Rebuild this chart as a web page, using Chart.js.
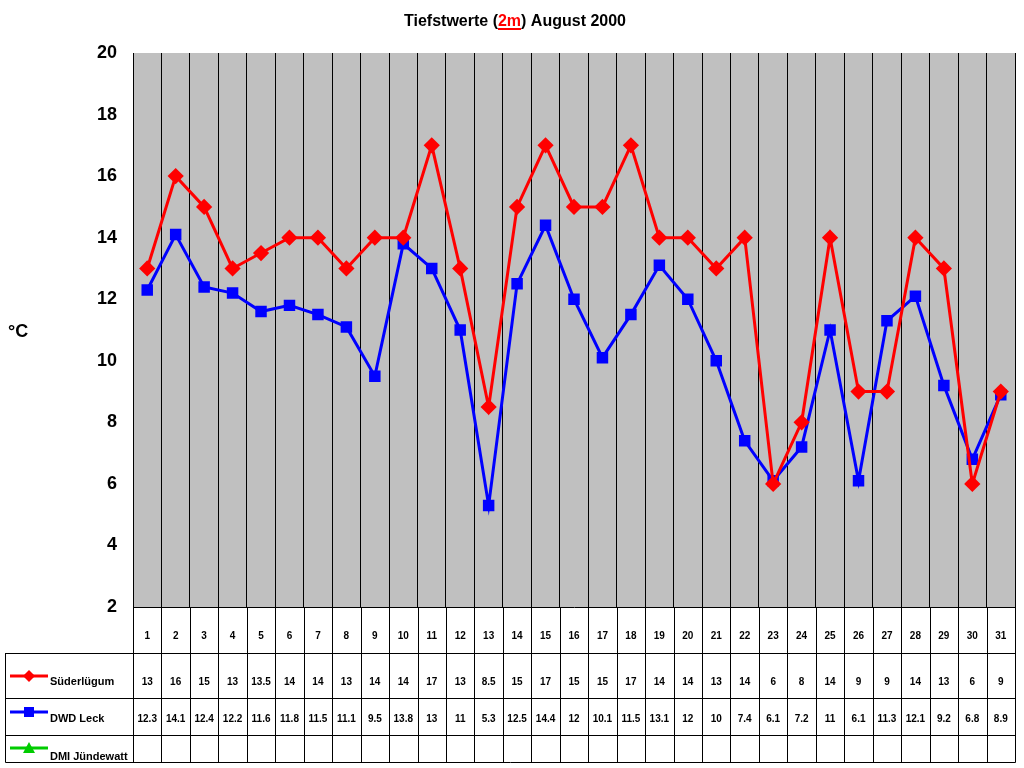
<!DOCTYPE html>
<html>
<head>
<meta charset="utf-8">
<script src="https://cdn.jsdelivr.net/npm/chart.js@4/dist/chart.umd.min.js"></script>
<style>
  html, body { margin: 0; padding: 0; background: #fff; }
  #wrap { width: 1024px; height: 768px; }
</style>
</head>
<body>
<div id="wrap"><canvas id="chart" width="1024" height="768"></canvas></div>
<script>
// ===== DATA =====
const days = Array.from({ length: 31 }, (_, i) => String(i + 1));
const suederluegum = [13, 16, 15, 13, 13.5, 14, 14, 13, 14, 14, 17, 13, 8.5, 15, 17, 15, 15, 17, 14, 14, 13, 14, 6, 8, 14, 9, 9, 14, 13, 6, 9];
const dwdLeck = [12.3, 14.1, 12.4, 12.2, 11.6, 11.8, 11.5, 11.1, 9.5, 13.8, 13, 11, 5.3, 12.5, 14.4, 12, 10.1, 11.5, 13.1, 12, 10, 7.4, 6.1, 7.2, 11, 6.1, 11.3, 12.1, 9.2, 6.8, 8.9];
const dmiJuendewatt = [];
const yTicks = [2, 4, 6, 8, 10, 12, 14, 16, 18, 20];

const FONT = "Arial, 'Liberation Sans', sans-serif";

// ===== TITLE, UNIT, TABLE =====
const extras = {
  id: "extras",
  beforeDraw(chart) {
    const { ctx, chartArea: a } = chart;
    ctx.save();
    ctx.fillStyle = "#c0c0c0";
    ctx.fillRect(a.left, a.top, a.right - a.left, a.bottom - a.top);
    ctx.restore();
  },
  afterDraw(chart) {
    const { ctx, chartArea: a, scales } = chart;
    const x = scales.x;
    ctx.save();

    // title
    ctx.font = "bold 16px " + FONT;
    ctx.textBaseline = "alphabetic";
    const parts = [["Tiefstwerte (", "#000"], ["2m", "#f00"], [") August 2000", "#000"]];
    const total = parts.reduce((s, p) => s + ctx.measureText(p[0]).width, 0);
    let tx = 515 - total / 2;
    parts.forEach(([t, c]) => {
      const w = ctx.measureText(t).width;
      ctx.fillStyle = c;
      ctx.fillText(t, tx, 26);
      if (c === "#f00") ctx.fillRect(tx, 28, w, 2);
      tx += w;
    });

    // unit
    ctx.fillStyle = "#000";
    ctx.font = "bold 18px " + FONT;
    ctx.fillText("°C", 8, 337);

    // table
    const top = a.bottom, bottom = 762, left = 5, right = a.right;
    const rows = [653, 698, 735];
    ctx.strokeStyle = "#000";
    ctx.lineWidth = 1;
    ctx.beginPath();
    ctx.moveTo(left + 0.5, rows[0]); ctx.lineTo(left + 0.5, bottom + 0.5);
    ctx.lineTo(right + 0.5, bottom + 0.5); ctx.lineTo(right + 0.5, top);
    rows.forEach(r => { ctx.moveTo(left, r + 0.5); ctx.lineTo(right, r + 0.5); });
    ctx.moveTo(a.left + 0.5, top); ctx.lineTo(a.left + 0.5, bottom);
    const step = (a.right - a.left) / days.length;
    for (let i = 1; i < days.length; i++) {
      const gx = Math.round(a.left + i * step) + 0.5;
      ctx.moveTo(gx, top); ctx.lineTo(gx, bottom);
    }
    ctx.stroke();

    ctx.font = "bold 10px " + FONT;
    ctx.textAlign = "center";
    days.forEach((d, i) => {
      const cx = x.getPixelForValue(i);
      ctx.fillText(d, cx, 639);
      ctx.fillText(String(suederluegum[i]), cx, 685);
      ctx.fillText(String(dwdLeck[i]), cx, 722);
      if (dmiJuendewatt[i] != null) ctx.fillText(String(dmiJuendewatt[i]), cx, 756);
    });

    // legend keys
    const keys = [
      ["Süderlügum", "#f00", "diamond", 676, 685],
      ["DWD Leck", "#00f", "square", 712, 722],
      ["DMI Jündewatt", "#0c0", "triangle", 748, 760]
    ];
    ctx.textAlign = "left";
    ctx.font = "bold 11px " + FONT;
    keys.forEach(([name, col, shape, ly, ty]) => {
      ctx.strokeStyle = col; ctx.fillStyle = col; ctx.lineWidth = 3;
      ctx.beginPath(); ctx.moveTo(10, ly); ctx.lineTo(48, ly); ctx.stroke();
      ctx.beginPath();
      if (shape === "diamond") { ctx.moveTo(29, ly - 6); ctx.lineTo(35, ly); ctx.lineTo(29, ly + 6); ctx.lineTo(23, ly); }
      else if (shape === "square") { ctx.rect(24, ly - 5, 10, 10); }
      else { ctx.moveTo(29, ly - 6); ctx.lineTo(35, ly + 5); ctx.lineTo(23, ly + 5); }
      ctx.closePath(); ctx.fill();
      ctx.fillStyle = "#000";
      ctx.fillText(name, 50, ty);
    });
    ctx.restore();
  }
};

new Chart(document.getElementById("chart"), {
  type: "line",
  data: {
    labels: days,
    datasets: [
      { label: "Süderlügum", data: suederluegum, borderColor: "#f00", backgroundColor: "#f00",
        borderWidth: 3, pointStyle: "rectRot", pointRadius: 6, tension: 0 },
      { label: "DWD Leck", data: dwdLeck, borderColor: "#00f", backgroundColor: "#00f",
        borderWidth: 3, pointStyle: "rect", pointRadius: 6, tension: 0 },
      { label: "DMI Jündewatt", data: dmiJuendewatt, borderColor: "#0c0", backgroundColor: "#0c0",
        borderWidth: 3, pointStyle: "triangle", pointRadius: 6 }
    ]
  },
  options: {
    responsive: false,
    animation: false,
    layout: { padding: { top: 53, right: 5, bottom: 6, left: 0 } },
    plugins: { legend: { display: false }, tooltip: { enabled: false } },
    scales: {
      x: {
        offset: true,
        grid: { offset: true, color: "#000", drawTicks: false },
        border: { color: "#000" },
        ticks: { display: false },
        afterFit(s) { s.height = 155; }
      },
      y: {
        min: 2, max: 20,
        afterBuildTicks(s) { s.ticks = yTicks.map(v => ({ value: v })); },
        grid: { display: false },
        border: { color: "#000" },
        ticks: { color: "#000", font: { family: FONT, size: 18, weight: "bold" }, padding: 8 },
        afterFit(s) { s.width = 133; }
      }
    }
  },
  plugins: [extras]
});
</script>
</body>
</html>
